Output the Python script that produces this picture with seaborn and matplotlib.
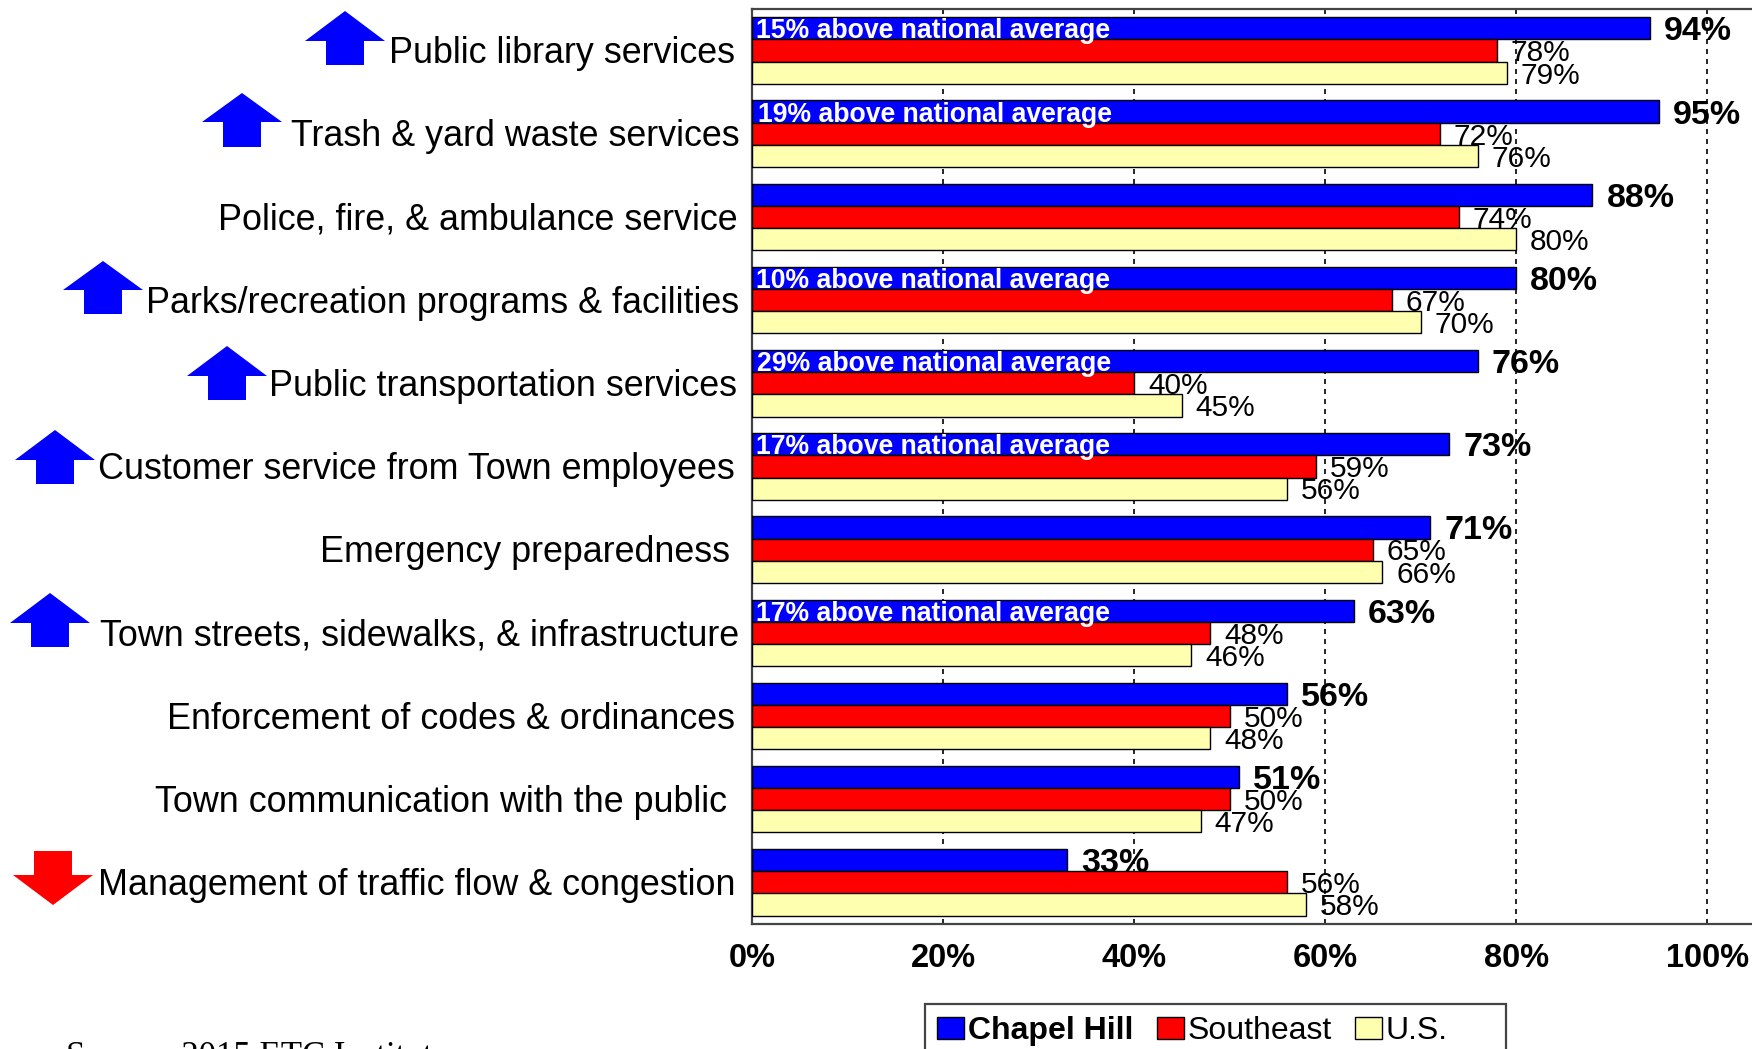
import pandas as pd
import matplotlib
matplotlib.use('Agg')
import matplotlib.pyplot as plt
import seaborn as sns
from matplotlib.patches import Polygon, Rectangle
from matplotlib.transforms import ScaledTranslation

categories = ['Public library services', 'Trash & yard waste services',
              'Police, fire, & ambulance service', 'Parks/recreation programs & facilities',
              'Public transportation services', 'Customer service from Town employees',
              'Emergency preparedness', 'Town streets, sidewalks, & infrastructure',
              'Enforcement of codes & ordinances', 'Town communication with the public',
              'Management of traffic flow & congestion']
chapel_hill = [94, 95, 88, 80, 76, 73, 71, 63, 56, 51, 33]
southeast = [78, 72, 74, 67, 40, 59, 65, 48, 50, 50, 56]
us = [79, 76, 80, 70, 45, 56, 66, 46, 48, 47, 58]
notes = ['15% above national average', '19% above national average', '',
         '10% above national average', '29% above national average',
         '17% above national average', '', '17% above national average', '', '', '']
series_names = ['Chapel Hill', 'Southeast', 'U.S.']
series_colors = ['#0000FF', '#FF0000', '#FFFFB0']
xtick_values = [0, 20, 40, 60, 80, 100]

# nudges of the row labels and the notes, in pixels
label_shift = [-17, -12, -14, -13, -15, -17, -22, -13, -17, -25, -16]
note_shift = [4, 6, 0, 4, 5, 4, 0, 4, 0, 0, 0]

# arrows: center x, tip y, head base y, tail y, color (pixels from top left)
arrows = [(345, 11, 41, 65, 'blue'), (242, 93, 122, 147, 'blue'),
          (103, 261, 290, 314, 'blue'), (227, 346, 376, 400, 'blue'),
          (55, 430, 460, 484, 'blue'), (50, 593, 623, 647, 'blue'),
          (53, 905, 875, 851, 'red')]

W, H = 1752, 1049

df = pd.DataFrame({'service': categories * 3,
                   'value': chapel_hill + southeast + us,
                   'group': [s for s in series_names for _ in categories]})

sns.set_style('white')
plt.rcParams['font.family'] = ['Liberation Sans', 'DejaVu Sans']
plt.rcParams['text.color'] = 'black'

fig = plt.figure(figsize=(W / 100, H / 100), dpi=100)
ax = fig.add_axes([752 / W, 1 - 924 / H, 1 - 752 / W, (924 - 9) / H])

sns.barplot(data=df, y='service', x='value', hue='group', order=categories,
            hue_order=series_names, palette=series_colors, width=0.8, saturation=1,
            edgecolor='black', linewidth=1, errorbar=None, ax=ax, zorder=3)

ax.set_xlim(0, 104.7)
ax.set_ylim(10.5, -0.5)
ax.set_xlabel('')
ax.set_ylabel('')
ax.set_xticks(xtick_values)
ax.set_xticklabels([f'{v}%' for v in xtick_values], fontsize=23.5, fontweight='bold')
ax.tick_params(axis='x', length=0, pad=14, colors='black')
ax.tick_params(axis='y', length=0, pad=0, labelsize=25.8, colors='black')
ax.grid(axis='x', color='black', linestyle=(0, (3, 3)), linewidth=1.2, zorder=0)
ax.set_axisbelow(True)

for name in ['top', 'left', 'bottom']:
    ax.spines[name].set_color('#444444')
    ax.spines[name].set_linewidth(1.6)
ax.spines['right'].set_visible(False)

for lab, shift in zip(ax.get_yticklabels(), label_shift):
    lab.set_transform(lab.get_transform() + ScaledTranslation(shift / 100, 0.01, fig.dpi_scale_trans))

for k, cont in enumerate(ax.containers[:3]):
    if k == 0:
        texts = ax.bar_label(cont, fmt='%d%%', padding=10, fontsize=24.5, fontweight='bold', color='black')
    else:
        texts = ax.bar_label(cont, fmt='%d%%', padding=10, fontsize=21.5, color='black')
    for t in texts:
        t.xyann = (t.xyann[0], t.xyann[1] - 2.5 if k == 0 else t.xyann[1] - 2)

for i, note in enumerate(notes):
    if note:
        bar = ax.containers[0][i]
        ax.annotate(note, xy=(0, bar.get_y() + bar.get_height() / 2), xytext=(note_shift[i], -3),
                    textcoords='offset pixels', color='white', fontsize=19.2, fontweight='bold',
                    va='center', ha='left', zorder=5)

for cx, tip, base, tail, col in arrows:
    pts = [(cx, tip), (cx + 40, base), (cx + 19, base), (cx + 19, tail),
           (cx - 19, tail), (cx - 19, base), (cx - 40, base)]
    fig.add_artist(Polygon([(x / W, 1 - y / H) for x, y in pts], closed=True,
                           transform=fig.transFigure, facecolor=col, edgecolor='none'))

# legend box runs off the bottom of the page
fig.add_artist(Rectangle((925 / W, 1 - 1060 / H), (1506 - 925) / W, 56 / H, transform=fig.transFigure,
                         facecolor='white', edgecolor='#444444', linewidth=1.6, zorder=-1))
leg = ax.legend(loc='upper left', bbox_to_anchor=(925 / W, 1 - 1004 / H),
                bbox_transform=fig.transFigure, ncol=3, frameon=False, fontsize=23, borderpad=0.38,
                handlelength=0.85, handleheight=0.65, handletextpad=0.12,
                columnspacing=0.72, borderaxespad=0, title=None)
leg.get_texts()[0].set_fontweight('bold')

fig.text(66 / W, 1 - 1066 / H, 'Source: 2015 ETC Institute', family='Liberation Serif',
         fontsize=25, va='baseline', ha='left')

fig.savefig('out.png', dpi=100)
